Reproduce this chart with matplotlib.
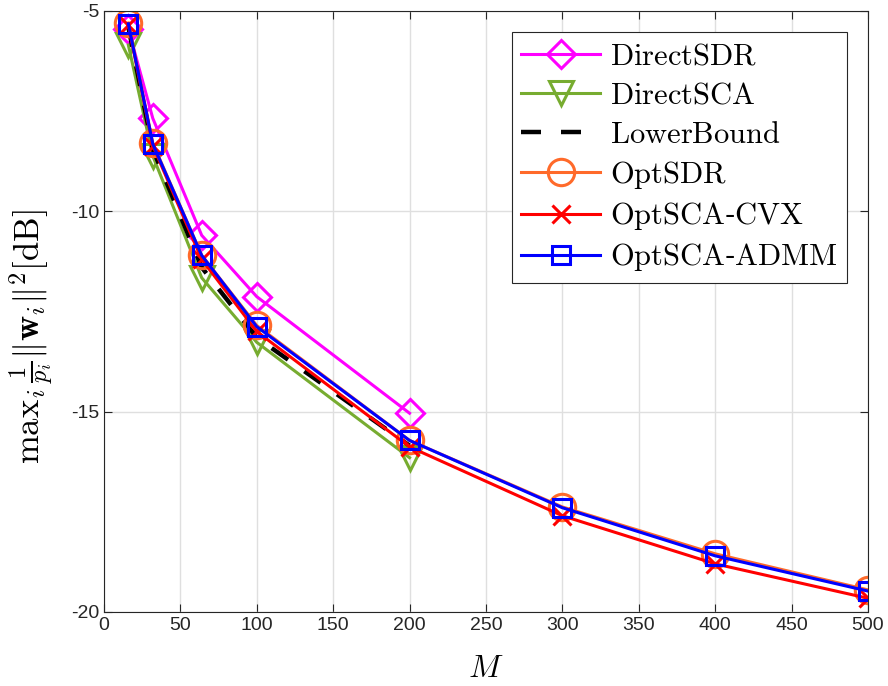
import matplotlib
matplotlib.use("Agg")
import matplotlib.pyplot as plt
from matplotlib.ticker import FuncFormatter

plt.rcParams['mathtext.fontset'] = 'cm'
plt.rcParams['font.family'] = ['Liberation Sans', 'DejaVu Sans']

# data
M_full = [16, 32, 64, 100, 200, 300, 400, 500]
M_short = [16, 32, 64, 100, 200]

direct_sdr = [-5.45, -7.68, -10.6, -12.13, -15.04]
direct_sca = [-5.85, -8.62, -11.66, -13.27, -16.15]
lower_bound = [-5.4, -8.45, -11.4, -13.15, -15.85]
opt_sdr = [-5.3, -8.3, -11.1, -12.85, -15.72, -17.38, -18.55, -19.45]
opt_sca_cvx = [-5.35, -8.36, -11.2, -13.0, -15.88, -17.6, -18.8, -19.66]
opt_sca_admm = [-5.32, -8.32, -11.1, -12.88, -15.72, -17.4, -18.6, -19.48]

fig = plt.figure(figsize=(8.88, 6.86), dpi=100)
ax = fig.add_axes([0.117, 0.108, 0.8605, 0.876])

lw = 2.2
ax.plot(M_short, direct_sdr, color='#ff00ff', lw=lw, marker='D', ms=14,
        mfc='none', mew=2.2, label=r'$\mathrm{DirectSDR}$')
ax.plot(M_short, direct_sca, color='#77ac30', lw=lw, marker='v', ms=17,
        mfc='none', mew=2.2, label=r'$\mathrm{DirectSCA}$')
ax.plot(M_short, lower_bound, color='black', lw=3.2, ls=(0, (4.5, 4.5)),
        label=r'$\mathrm{LowerBound}$')
ax.plot(M_full, opt_sdr, color='#ff6a2a', lw=lw, marker='o', ms=19,
        mfc='none', mew=2.2, label=r'$\mathrm{OptSDR}$')
ax.plot(M_full, opt_sca_cvx, color='#ff0000', lw=lw, marker='x', ms=13,
        mew=2.2, label=r'$\mathrm{OptSCA}$-$\mathrm{CVX}$')
ax.plot(M_full, opt_sca_admm, color='#0000ff', lw=lw, marker='s', ms=13,
        mfc='none', mew=2.2, label=r'$\mathrm{OptSCA}$-$\mathrm{ADMM}$')

ax.set_xlim(0, 500)
ax.set_ylim(-20, -5)
ax.set_xticks(range(0, 501, 50))
ax.set_yticks([-20, -15, -10, -5])
ax.yaxis.set_major_formatter(FuncFormatter(lambda v, p: '%d' % v))
ax.tick_params(direction='in', labelsize=14, colors='#262626', length=6,
               top=True, right=True)
ax.grid(True, color='#dfdfdf', lw=1)
ax.set_axisbelow(True)
for s in ax.spines.values():
    s.set_color('#262626')
    s.set_linewidth(0.8)

ax.set_xlabel(r'$M$', fontsize=23)
ax.xaxis.set_label_coords(0.5, -0.07)
ax.set_ylabel(r'$\mathrm{max}_i\,\frac{1}{p_i}\|\mathbf{w}_i\|^2[\mathrm{dB}]$',
              fontsize=25)
ax.yaxis.set_label_coords(-0.064, 0.458)

leg = ax.legend(loc='upper right', fontsize=22, handlelength=2.6, handletextpad=0.3,
                labelspacing=0.3, borderpad=0.3, fancybox=False, framealpha=1,
                borderaxespad=0.7)
leg.get_frame().set_edgecolor('#262626')
leg.get_frame().set_linewidth(0.8)

fig.savefig('out.png', dpi=100)
